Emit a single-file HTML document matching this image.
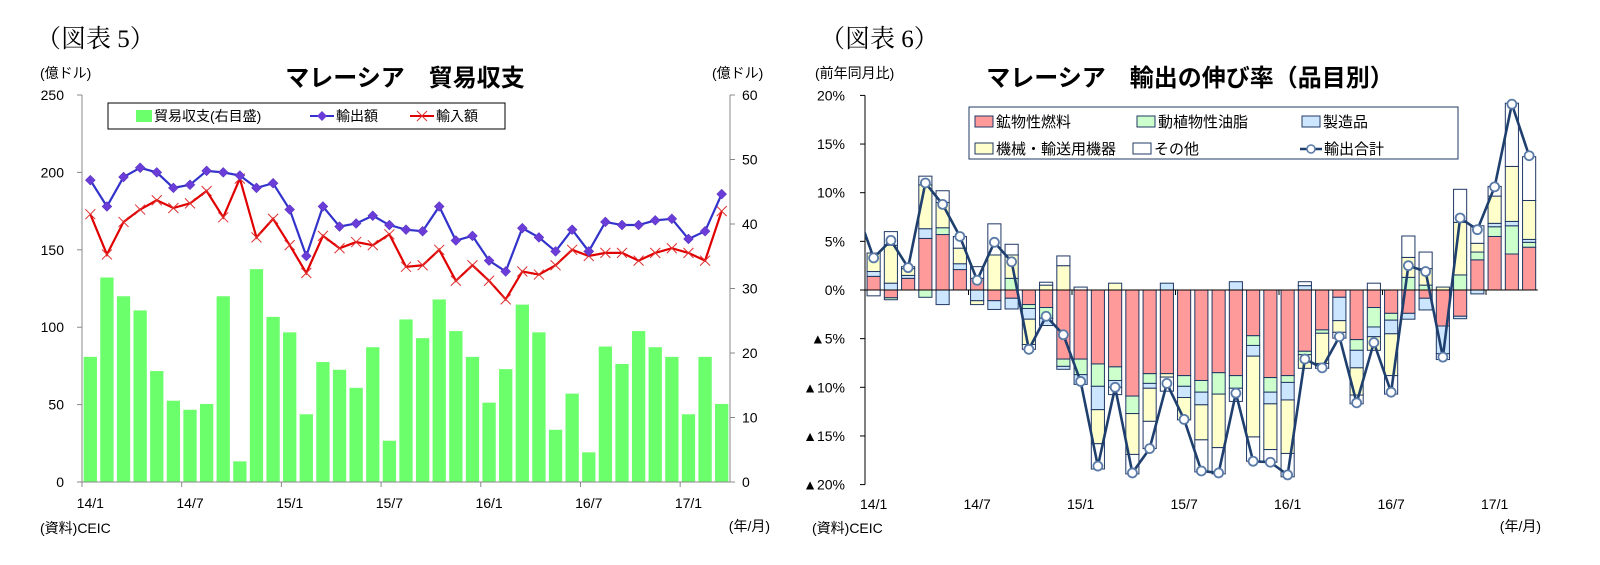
<!DOCTYPE html>
<html><head><meta charset="utf-8">
<style>
html,body{margin:0;padding:0;background:#fff;}
svg{display:block;font-family:"Liberation Sans","Noto Sans CJK JP",sans-serif;}
.t{font-size:14px;fill:#000;}
</style></head>
<body>
<svg id="root" width="1600" height="565" viewBox="0 0 1600 565" xmlns="http://www.w3.org/2000/svg">
<defs><clipPath id="rclip"><rect x="865" y="90" width="680" height="400"/></clipPath></defs>
<text x="36" y="47" font-family="'Liberation Serif','Noto Serif CJK SC',serif" font-size="25">（図表 5）</text>
<text x="405" y="86" text-anchor="middle" font-size="24" font-weight="bold">マレーシア　貿易収支</text>
<text x="40" y="78" class="t" font-size="13">(億ドル)</text>
<text x="712" y="78" class="t" font-size="13">(億ドル)</text>
<text x="40" y="533" class="t">(資料)CEIC</text>
<text x="770" y="531" class="t" text-anchor="end">(年/月)</text>
<g id="c5"></g>
<text x="820" y="47" font-family="'Liberation Serif','Noto Serif CJK SC',serif" font-size="25">（図表 6）</text>
<text x="1190" y="86" text-anchor="middle" font-size="24" font-weight="bold">マレーシア　輸出の伸び率（品目別）</text>
<text x="815" y="78" class="t" font-size="13">(前年同月比)</text>
<text x="812" y="533" class="t">(資料)CEIC</text>
<text x="1541" y="531" class="t" text-anchor="end">(年/月)</text>
<g id="c6"></g>
</svg>
<script>
// ===== Chart 5 data =====
const months5 = ["14/1","14/2","14/3","14/4","14/5","14/6","14/7","14/8","14/9","14/10","14/11","14/12","15/1","15/2","15/3","15/4","15/5","15/6","15/7","15/8","15/9","15/10","15/11","15/12","16/1","16/2","16/3","16/4","16/5","16/6","16/7","16/8","16/9","16/10","16/11","16/12","17/1","17/2","17/3"];
const balance = [19.4,31.7,28.8,26.6,17.2,12.6,11.2,12.1,28.8,3.2,33,25.6,23.2,10.5,18.6,17.4,14.6,20.9,6.4,25.2,22.3,28.3,23.4,19.4,12.3,17.5,27.5,23.2,8.1,13.7,4.6,21,18.3,23.4,20.9,19.4,10.5,19.4,12.1];
const exportsV = [195,178,197,203,200,190,192,201,200,198,190,193,176,146,178,165,167,172,166,163,162,178,156,159,143,136,164,158,149,163,149,168,166,166,169,170,157,162,186];
const importsV = [173,147,168,176,182,177,180,188,171,196,158,170,153,135,159,151,155,153,160,139,140,150,130,140,130,118,136,134,140,150,146,148,148,143,148,151,148,143,175];
const leftTicks5 = [0,50,100,150,200,250];
const rightTicks5 = [0,10,20,30,40,50,60];
const xLabels5 = ["14/1","14/7","15/1","15/7","16/1","16/7","17/1"];

// ===== Chart 6 data =====
const prevTotal6 = 8.3;
const fuel   = [1.4,-0.8,1.2,5.3,5.7,2.1,1.2,-1.1,-0.85,-1.5,-1.8,-7.1,-7.1,-7.6,-7.9,-10.9,-8.6,-8.6,-8.8,-9.3,-8.5,-8.8,-4.7,-9.0,-8.8,-6.3,-4.1,-0.75,-5.1,-1.8,-2.4,-2.4,-0.85,-3.7,-2.7,3.1,5.5,3.7,4.4];
const oils   = [0,-0.2,0,-0.75,0.7,0,0,0,1.2,-0.4,-1.1,-0.75,-1.6,-2.3,-1.4,-1.8,-1.0,0,-1.1,-1.2,-2.2,-1.3,-1.0,-1.5,-0.7,-0.35,-0.35,0,-1.1,-2.0,-0.7,1.3,0.5,0,1.55,0.8,1.0,2.9,0.5];
const manuf  = [0.5,0.7,0.3,1.0,-1.5,0.6,-1.1,-0.9,-1.1,-1.1,-0.75,-0.3,-1.0,-2.4,-0.7,0,-0.5,0.7,-1.15,-1.3,0,0.85,-1.1,-1.2,-1.8,0.45,0,-2.4,-1.8,-1.0,-1.4,-0.6,-1.2,-2.85,-0.25,-0.4,0.35,0.45,0.3];
const machin = [1.9,3.9,0.7,4.5,2.6,1.6,-0.4,3.6,2.4,-2.6,0.5,2.5,0,-3.5,0.7,-4.2,-3.4,-0.35,-2.3,-3.6,-5.5,0,-8.3,-4.7,-5.5,-1.4,-3.1,-1.2,-2.8,-1.4,-4.3,2.05,1.7,0.3,5.4,0.9,2.8,5.65,4.0];
const others = [-0.6,1.4,0.2,0.9,1.2,1.2,1.2,3.2,1.1,-0.5,0.3,1.0,0.3,-2.6,-0.75,-2.0,-2.8,-1.45,0,-3.3,-2.7,-1.35,-2.5,-1.3,-2.4,0.4,-0.5,-0.6,-0.9,0.7,-1.9,2.2,1.7,-0.6,3.4,1.8,1.0,6.5,4.5];
const total6 = [3.3,5.1,2.3,11.0,8.8,5.5,1.0,4.9,2.9,-6.1,-2.7,-4.6,-9.4,-18.1,-10.0,-18.8,-16.3,-9.6,-13.3,-18.6,-18.8,-10.6,-17.6,-17.7,-19.0,-7.1,-8.0,-4.8,-11.6,-5.4,-10.5,2.5,1.9,-6.9,7.4,6.2,10.6,19.1,13.8];
const yTicks6 = [20,15,10,5,0,-5,-10,-15,-20];
const xLabels6 = ["14/1","14/7","15/1","15/7","16/1","16/7","17/1"];

const NS="http://www.w3.org/2000/svg";
function mk(tag,attrs,parent,txt){const e=document.createElementNS(NS,tag);for(const k in attrs)e.setAttribute(k,attrs[k]);if(txt!==undefined)e.textContent=txt;parent.appendChild(e);return e;}

(function(){
  const g=document.getElementById('c5');
  const L=82,R=730,T=95,B=482,n=months5.length,slot=(R-L)/n;
  const xc=i=>L+(i+0.5)*slot;
  const yl=v=>B-(v/250)*(B-T);
  const yr=v=>B-(v/60)*(B-T);
  balance.forEach((v,i)=>{
    const r=mk('rect',{x:xc(i)-slot*0.4,y:yr(v),width:slot*0.8,height:B-yr(v),fill:'#6cff6c'},g);
    
    
  });
  let a=mk('line',{x1:L,y1:T,x2:L,y2:B,stroke:'#888','stroke-width':1},g);
  
  a=mk('line',{x1:R,y1:T,x2:R,y2:B,stroke:'#888','stroke-width':1},g);
  
  a=mk('line',{x1:L,y1:B,x2:R,y2:B,stroke:'#888','stroke-width':1},g);
  
  leftTicks5.forEach(v=>{
    mk('line',{x1:L-5,y1:yl(v),x2:L,y2:yl(v),stroke:'#888'},g);
    const t=mk('text',{x:L-18,y:yl(v)+5,'text-anchor':'end',class:'t'},g,String(v));
    
  });
  rightTicks5.forEach(v=>{
    mk('line',{x1:R,y1:yr(v),x2:R+5,y2:yr(v),stroke:'#888'},g);
    const t=mk('text',{x:R+12,y:yr(v)+5,class:'t'},g,String(v));
    
  });
  xLabels5.forEach(lb=>{
    const i=months5.indexOf(lb);
    mk('line',{x1:L+i*slot,y1:B,x2:L+i*slot,y2:B+5,stroke:'#888'},g);
    const t=mk('text',{x:xc(i),y:508,'text-anchor':'middle',class:'t'},g,lb);
    
  });
  const ip=importsV.map((v,i)=>xc(i)+','+yl(v)).join(' ');
  let pl=mk('polyline',{points:ip,fill:'none',stroke:'#e00000','stroke-width':2.2},g);
  
  importsV.forEach((v,i)=>{
    const x=xc(i),y=yl(v);
    const p=mk('path',{d:`M${x-5},${y-5}L${x+5},${y+5}M${x-5},${y+5}L${x+5},${y-5}`,stroke:'#e03030','stroke-width':1},g);
    
  });
  const ep=exportsV.map((v,i)=>xc(i)+','+yl(v)).join(' ');
  pl=mk('polyline',{points:ep,fill:'none',stroke:'#3333cc','stroke-width':2.2},g);
  
  exportsV.forEach((v,i)=>{
    const x=xc(i),y=yl(v);
    const p=mk('path',{d:`M${x},${y-5}L${x+5},${y}L${x},${y+5}L${x-5},${y}Z`,fill:'#6a3cd8',stroke:'#5030b0','stroke-width':0.5},g);
    
  });
  const lg=mk('g',{},g);
  
  mk('rect',{x:108,y:103,width:397,height:26,fill:'#fff',stroke:'#000','stroke-width':1},lg);
  mk('rect',{x:136,y:110,width:16,height:12,fill:'#6cff6c'},lg);
  let t=mk('text',{x:154,y:121,class:'t'},lg,'貿易収支(右目盛)');
  
  mk('line',{x1:310,y1:116,x2:334,y2:116,stroke:'#3333cc','stroke-width':2},lg);
  mk('path',{d:'M322,111L327,116L322,121L317,116Z',fill:'#6a3cd8'},lg);
  t=mk('text',{x:336,y:121,class:'t'},lg,'輸出額');
  
  mk('line',{x1:410,y1:116,x2:434,y2:116,stroke:'#e00000','stroke-width':2},lg);
  mk('path',{d:'M417,111L427,121M417,121L427,111',stroke:'#e03030'},lg);
  t=mk('text',{x:436,y:121,class:'t'},lg,'輸入額');
  
})();

(function(){
  const g=document.getElementById('c6');
  const L=865,T=95.4,B=484.6,slot=17.25,n=total6.length;
  const xc=i=>L+(i+0.5)*slot;
  const y=v=>290-v*(B-T)/40;
  const series=[[fuel,'#ff9a9a','fuel'],[oils,'#ccffcc','oils'],[manuf,'#cce6ff','manufactured'],[machin,'#ffffcc','machinery'],[others,'#ffffff','other']];
  const bg=mk('g',{},g);
  for(let i=0;i<n;i++){
    let pos=0,neg=0;
    series.forEach(([arr,col,nm])=>{
      const v=arr[i];if(!v)return;
      let y0,y1;
      if(v>0){y0=y(pos+v);y1=y(pos);pos+=v;}else{y0=y(neg);y1=y(neg+v);neg+=v;}
      const r=mk('rect',{x:xc(i)-slot*0.38,y:y0,width:slot*0.76,height:y1-y0,fill:col,stroke:'#1f3864','stroke-width':1},bg);
      
      
    });
  }
  let a=mk('line',{x1:L,y1:T,x2:L,y2:B,stroke:'#000'},g);
  
  a=mk('line',{x1:L,y1:y(0),x2:L+n*slot,y2:y(0),stroke:'#000'},g);
  
  yTicks6.forEach(v=>{
    mk('line',{x1:L-5,y1:y(v),x2:L,y2:y(v),stroke:'#000'},g);
    const lab=(v<0?'▲'+(-v):String(v))+'%';
    const t=mk('text',{x:L-20,y:y(v)+5,'text-anchor':'end',class:'t'},g,lab);
    
  });
  xLabels6.forEach(lb=>{
    const i=months5.indexOf(lb);
    mk('line',{x1:L+i*slot,y1:y(0),x2:L+i*slot,y2:y(0)+5,stroke:'#000'},g);
    const t=mk('text',{x:xc(i),y:509,'text-anchor':'middle',class:'t'},g,lb);
    
  });
  const lg0=mk('g',{'clip-path':'url(#rclip)'},g);
  const pts=[(xc(-1))+','+y(prevTotal6)].concat(total6.map((v,i)=>xc(i)+','+y(v))).join(' ');
  const pl=mk('polyline',{points:pts,fill:'none',stroke:'#1f3f6e','stroke-width':2.6},lg0);
  
  total6.forEach((v,i)=>{
    const c=mk('circle',{cx:xc(i),cy:y(v),r:4.5,fill:'#fff',stroke:'#5a7aa8','stroke-width':1.8},lg0);
    
  });
  const lg=mk('g',{},g);
  
  mk('rect',{x:969,y:107,width:489,height:52,fill:'#fff',stroke:'#1f3864','stroke-width':1},lg);
  const ent=[[975,122,'#ff9a9a','鉱物性燃料'],[1137,122,'#ccffcc','動植物性油脂'],[1302,122,'#cce6ff','製造品'],[975,149,'#ffffcc','機械・輸送用機器'],[1133,149,'#ffffff','その他']];
  ent.forEach(([x,yy,c,lb])=>{
    mk('rect',{x:x,y:yy-6,width:18,height:11,fill:c,stroke:'#1f3864'},lg);
    const t=mk('text',{x:x+21,y:yy+5,class:'t',style:'font-size:15px'},lg,lb);
    
  });
  mk('line',{x1:1300,y1:149,x2:1322,y2:149,stroke:'#1f3f6e','stroke-width':2.4},lg);
  mk('circle',{cx:1311,cy:149,r:4,fill:'#fff',stroke:'#5a7aa8','stroke-width':1.5},lg);
  const t=mk('text',{x:1324,y:154,class:'t',style:'font-size:15px'},lg,'輸出合計');
  
})();
</script>
</body></html>
